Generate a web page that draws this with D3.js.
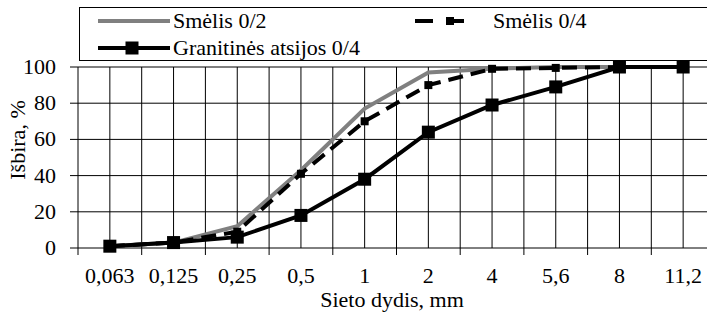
<!DOCTYPE html>
<html>
<head>
<meta charset="utf-8">
<script src="https://cdn.jsdelivr.net/npm/d3@7"></script>
</head>
<body style="margin:0">
<svg id="chart" width="707" height="316" style="font-family: serif"></svg>
<script>
// Data
var sieveSizes = ['0,063', '0,125', '0,25', '0,5', '1', '2', '4', '5,6', '8', '11,2'];
var smelis02 = [1, 3, 12, 43, 77, 97, 99, 100, 100, 100];
var smelis04 = [1, 3, 9, 41, 70, 90, 99, 99.5, 100, 100];
var granitines04 = [1, 3, 6, 18, 38, 64, 79, 89, 100, 100];
var yTicks = [0, 20, 40, 60, 80, 100];

var seriesNames = ['Smėlis 0/2', 'Smėlis 0/4', 'Granitinės atsijos 0/4'];

var fontFamily = 'Liberation Serif, Tinos, serif';
var fontSize = 22;

var plot = {
  left: 78,
  right: 715,
  top: 67,
  bottom: 248
};

var svg = d3.select('#chart');

/**
 * Adds a text in the chart's serif face.
 */
function addText(parent, x, y, anchor, str) {
  return parent.append('text')
    .attr('font-family', fontFamily)
    .attr('font-size', fontSize)
    .style('font-family', fontFamily)
    .attr('x', x)
    .attr('y', y)
    .attr('text-anchor', anchor)
    .text(str);
}

// Scales
var xScale = d3.scaleBand()
  .domain(sieveSizes)
  .range([plot.left, plot.right]);

var yScale = d3.scaleLinear()
  .domain([0, 100])
  .range([plot.bottom, plot.top]);

function xCenter(c) {
  return xScale(c) + xScale.bandwidth() / 2;
}

// Grid lines: category borders and centres
var gridGroup = svg.append('g').classed('grid', true);

var vLines = [];
sieveSizes.forEach(function(c) {
  vLines.push(xScale(c));
  vLines.push(xCenter(c));
});

gridGroup.selectAll('.vgrid')
  .data(vLines)
  .enter()
  .append('line')
  .attr('x1', function(d) { return d; })
  .attr('x2', function(d) { return d; })
  .attr('y1', plot.top)
  .attr('y2', plot.bottom)
  .attr('stroke', '#000');

gridGroup.selectAll('.hgrid')
  .data(yTicks)
  .enter()
  .append('line')
  .attr('x1', plot.left - 8)
  .attr('x2', plot.right)
  .attr('y1', function(d) { return yScale(d); })
  .attr('y2', function(d) { return yScale(d); })
  .attr('stroke', '#000');

// x tick marks on the category borders
svg.append('g')
  .selectAll('line')
  .data(sieveSizes)
  .enter()
  .append('line')
  .attr('x1', function(d) { return xScale(d); })
  .attr('x2', function(d) { return xScale(d); })
  .attr('y1', plot.bottom)
  .attr('y2', plot.bottom + 7)
  .attr('stroke', '#000');

// Tick labels
yTicks.forEach(function(t) {
  addText(svg, 56, yScale(t) + 7, 'end', t);
});

sieveSizes.forEach(function(c) {
  addText(svg, xCenter(c), 283, 'middle', c);
});

// Axis labels
addText(svg, 392, 307, 'middle', 'Sieto dydis, mm');
addText(svg, -140, 25, 'middle', 'Išbira, %')
  .attr('transform', 'rotate(-90, 0, 0)');

// Lines
var line = d3.line()
  .x(function(d, i) { return xCenter(sieveSizes[i]); })
  .y(function(d) { return yScale(d); });

svg.append('path')
  .datum(smelis02)
  .attr('d', line)
  .attr('fill', 'none')
  .attr('stroke', '#808080')
  .attr('stroke-width', 4);

svg.append('path')
  .datum(smelis04)
  .attr('d', line)
  .attr('fill', 'none')
  .attr('stroke', '#000')
  .attr('stroke-width', 4)
  .attr('stroke-dasharray', '15,8');

svg.append('g')
  .selectAll('rect')
  .data(smelis04)
  .enter()
  .append('rect')
  .attr('x', function(d, i) { return xCenter(sieveSizes[i]) - 4; })
  .attr('y', function(d) { return yScale(d) - 4; })
  .attr('width', 8)
  .attr('height', 8)
  .attr('fill', '#000');

svg.append('path')
  .datum(granitines04)
  .attr('d', line)
  .attr('fill', 'none')
  .attr('stroke', '#000')
  .attr('stroke-width', 4);

svg.append('g')
  .selectAll('rect')
  .data(granitines04)
  .enter()
  .append('rect')
  .attr('x', function(d, i) { return xCenter(sieveSizes[i]) - 6.5; })
  .attr('y', function(d) { return yScale(d) - 6.5; })
  .attr('width', 13)
  .attr('height', 13)
  .attr('fill', '#000');

// Legend
var legend = svg.append('g').classed('legend', true);

legend.append('rect')
  .attr('x', 79.5)
  .attr('y', 7.5)
  .attr('width', 640)
  .attr('height', 53)
  .attr('fill', '#fff')
  .attr('stroke', '#000');

// Smėlis 0/2
legend.append('line')
  .attr('x1', 98).attr('x2', 170)
  .attr('y1', 21).attr('y2', 21)
  .attr('stroke', '#808080')
  .attr('stroke-width', 4);
addText(legend, 173, 28, 'start', seriesNames[0]);

// Smėlis 0/4
legend.append('line')
  .attr('x1', 415).attr('x2', 475)
  .attr('y1', 21).attr('y2', 21)
  .attr('stroke', '#000')
  .attr('stroke-width', 4)
  .attr('stroke-dasharray', '18,13');
legend.append('rect')
  .attr('x', 446).attr('y', 17)
  .attr('width', 8).attr('height', 8)
  .attr('fill', '#000');
addText(legend, 493, 28, 'start', seriesNames[1]);

// Granitinės atsijos 0/4
legend.append('line')
  .attr('x1', 98).attr('x2', 170)
  .attr('y1', 48).attr('y2', 48)
  .attr('stroke', '#000')
  .attr('stroke-width', 4);
legend.append('rect')
  .attr('x', 125.5).attr('y', 41.5)
  .attr('width', 13).attr('height', 13)
  .attr('fill', '#000');
addText(legend, 173, 55, 'start', seriesNames[2]);
</script>
</body>
</html>
